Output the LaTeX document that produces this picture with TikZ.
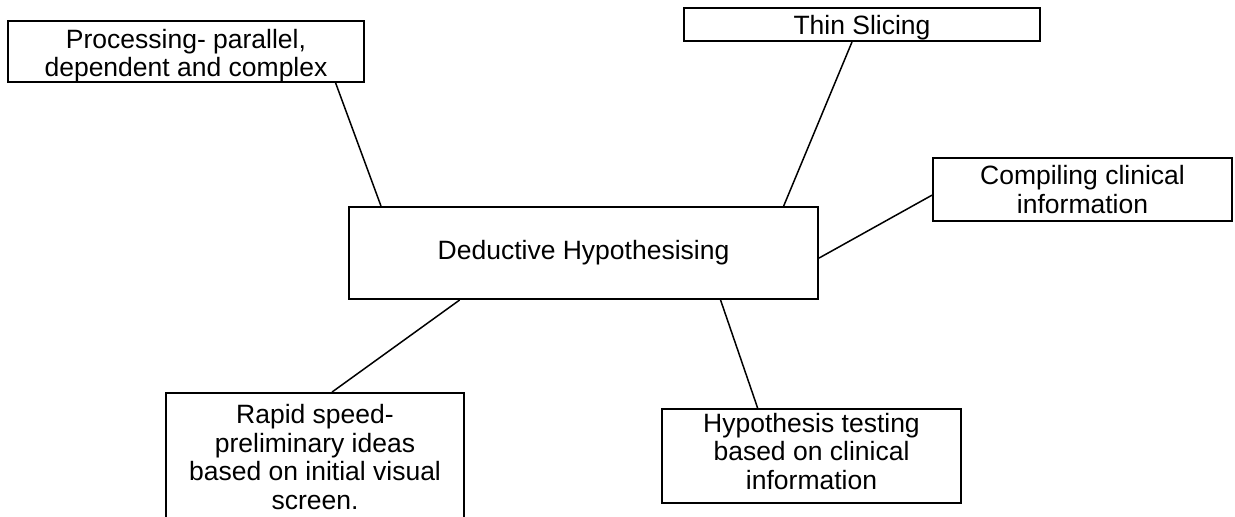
\documentclass[tikz,border=0pt]{standalone}
\usepackage{fontspec}
\setmainfont{Liberation Sans}
\usetikzlibrary{calc}
\tikzset{
  boxnode/.style={draw=black, line width=2pt, rectangle, inner sep=0pt, align=center,
    font=\fontsize{26.5}{28.5}\selectfont},
  link/.style={draw=black, line width=1.5pt}
}
\begin{document}
\begin{tikzpicture}[x=1pt,y=-1pt]
\clip (0,0) rectangle (1235,517);
\fill[white] (0,0) rectangle (1235,517);
\node[boxnode, minimum width=356pt, minimum height=61pt] (proc) at (186,51.5) {\rule{0pt}{27pt}Processing- parallel,\\dependent and complex};
\node[boxnode, minimum width=356pt, minimum height=33pt] (thin) at (862,24.5) {\rule{0pt}{25pt}Thin Slicing};
\node[boxnode, minimum width=299pt, minimum height=63pt] (comp) at (1082.5,189.5) {Compiling clinical\\information};
\node[boxnode, minimum width=469pt, minimum height=92pt] (ded) at (583.5,253) {Deductive Hypothesising};
\node[boxnode, minimum width=298pt, minimum height=128pt] (rapid) at (315,457) {Rapid speed-\\preliminary ideas\\based on initial visual\\screen.};
\node[boxnode, minimum width=299pt, minimum height=94pt] (hyp) at (811.5,456) {Hypothesis testing\\based on clinical\\information\rule[-10pt]{0pt}{1pt}};
\draw[link] ($(proc.south west)!0.918!(proc.south east)$) -- ($(ded.north west)!0.070!(ded.north east)$);
\draw[link] ($(thin.south west)!0.472!(thin.south east)$) -- ($(ded.north west)!0.925!(ded.north east)$);
\draw[link] ($(comp.north west)!0.587!(comp.south west)$) -- ($(ded.north east)!0.554!(ded.south east)$);
\draw[link] ($(rapid.north west)!0.557!(rapid.north east)$) -- ($(ded.south west)!0.237!(ded.south east)$);
\draw[link] ($(hyp.north west)!0.321!(hyp.north east)$) -- ($(ded.south west)!0.791!(ded.south east)$);
\end{tikzpicture}
\end{document}
